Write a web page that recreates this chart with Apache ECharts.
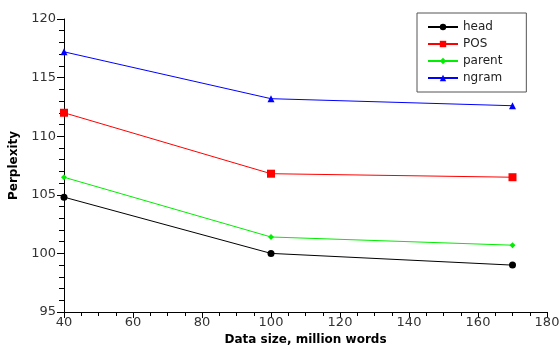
<!DOCTYPE html>
<html>
<head>
<meta charset="utf-8">
<script src="https://cdn.jsdelivr.net/npm/echarts@6/dist/echarts.min.js"></script>
<style>
  html, body { margin: 0; padding: 0; background: #fff; }
  #chart { width: 560px; height: 349px; }
</style>
</head>
<body>
<div id="chart"></div>
<script>
// data size (million words)
const dataSizes = [40, 100, 170]
const headVals = [104.8, 100.0, 99.0]
const posVals = [112.0, 106.8, 106.5]
const parentVals = [106.5, 101.4, 100.7]
const ngramVals = [117.2, 113.2, 112.6]

const pairs = (ys) => dataSizes.map((x, i) => [x, ys[i]])
const font = 'Verdana, "DejaVu Sans", sans-serif'

const chart = echarts.init(document.getElementById('chart'))
const mk = (name, vals, color, symbol, size) => ({
  name: name,
  type: 'line',
  data: pairs(vals),
  symbol: symbol,
  symbolSize: size,
  showAllSymbol: true,
  lineStyle: { color: color, width: 1 },
  itemStyle: { color: color },
  emphasis: { disabled: true },
  animation: false
})

chart.setOption({
  backgroundColor: '#fff',
  grid: { left: 64, right: 13, top: 19, bottom: 37, outerBoundsMode: 'none', containLabel: false },
  legend: {
    orient: 'vertical',
    left: 417,
    top: 13,
    padding: [8, 24, 8, 10],
    itemGap: 5,
    itemWidth: 30,
    itemHeight: 8,
    borderColor: '#555',
    borderWidth: 1,
    textStyle: { fontFamily: font, fontSize: 12, color: '#222' },
    data: ['head', 'POS', 'parent', 'ngram']
  },
  xAxis: {
    type: 'value',
    min: 40, max: 180, interval: 20,
    name: 'Data size, million words',
    nameLocation: 'middle',
    nameGap: 21,
    nameTextStyle: { fontFamily: font, fontSize: 12, fontWeight: 'bold', color: '#000' },
    axisLine: { show: true, onZero: false, lineStyle: { color: '#000', width: 1 } },
    axisTick: { show: true, length: 6, lineStyle: { color: '#000' } },
    minorTick: { show: true, splitNumber: 4, length: 4, lineStyle: { color: '#000' } },
    axisLabel: { fontFamily: font, fontSize: 13, color: '#333', margin: 4 },
    splitLine: { show: false }
  },
  yAxis: {
    type: 'value',
    min: 95, max: 120, interval: 5,
    name: 'Perplexity',
    nameLocation: 'middle',
    nameGap: 38,
    nameTextStyle: { fontFamily: font, fontSize: 12, fontWeight: 'bold', color: '#000' },
    axisLine: { show: true, onZero: false, lineStyle: { color: '#000', width: 1 } },
    axisTick: { show: true, length: 7, lineStyle: { color: '#000' } },
    minorTick: { show: true, splitNumber: 5, length: 5, lineStyle: { color: '#000' } },
    axisLabel: { fontFamily: font, fontSize: 13, color: '#333', margin: 8 },
    splitLine: { show: false }
  },
  series: [
    mk('head', headVals, '#000000', 'circle', 7),
    mk('POS', posVals, '#ff0000', 'rect', 8),
    mk('parent', parentVals, '#00ee00', 'diamond', 6),
    mk('ngram', ngramVals, '#0000ff', 'triangle', 7)
  ]
})
</script>
</body>
</html>
